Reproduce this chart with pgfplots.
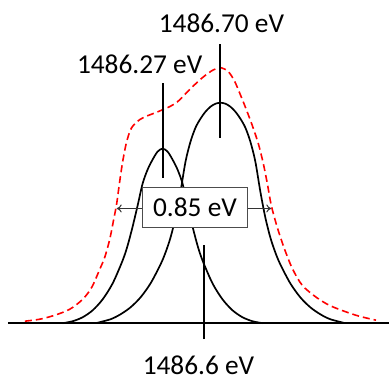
\documentclass[border=0pt]{standalone}
\usepackage{pgfplots}
\pgfplotsset{compat=1.18}
\usetikzlibrary{arrows.meta}
\usepackage{fontspec}
\setmainfont{Carlito}
\begin{document}
\begin{tikzpicture}
\begin{axis}[
  scale only axis, width=390bp, height=379bp,
  xmin=0, xmax=390, ymin=0, ymax=379,
  hide axis, clip=false,
]
\path (rel axis cs:0,0) rectangle (rel axis cs:1,1);
% baseline
\addplot[black, line width=2bp] coordinates {(8,55) (390,55)};
% red envelope
\addplot[red, line width=1.6bp, dash pattern=on 7bp off 4bp, smooth, tension=0.5] coordinates {
(25,57)(40,59)(55,63)(70,69)(83,79)(92,91)(100,109)(105,121)(110,139)(114,159)(117,175)(120,197)(123,217)(127,237)(132,251)(140,259)(148,263)(156,266)(163,269)(170,272)(178,277)(186,285)(194,293)(204,302)(214,309)(222,311)(229,307)(235,298)(241,284)(247,269)(253,253)(259,235)(264,215)(268,195)(272,173)(278,151)(285,130)(293,110)(303,93)(317,81)(330,73)(345,67)(360,62)(377,58)};
% small peak
\addplot[black, line width=1.7bp, smooth, tension=0.5] coordinates {
(63,55)(73,57)(83,61)(93,68)(103,79)(113,95)(123,118)(128,133)(133,152)(138,173)(143,195)(148,209)(153,219)(158,227)(163,230)(168,227)(173,219)(178,209)(183,195)(188,173)(193,152)(198,133)(203,118)(213,95)(223,79)(233,68)(243,61)(253,57)(263,55)};
% big peak
\addplot[black, line width=1.7bp, smooth, tension=0.5] coordinates {
(96,55)(111,59)(121,64)(131,71)(141,81)(151,95)(161,114)(166,126)(171,141)(176,161)(181,187)(186,217)(191,237)(196,251)(201,260)(206,267)(211,272)(216,275)(221,276)(226,275)(231,272)(236,267)(241,260)(246,251)(251,237)(256,217)(261,187)(266,161)(271,141)(276,126)(281,114)(291,95)(301,81)(311,71)(321,64)(331,59)(346,55)};
% vertical markers
\addplot[black, line width=2bp] coordinates {(163,201) (163,296)};
\addplot[black, line width=2bp] coordinates {(221,241) (221,335)};
\addplot[black, line width=2bp] coordinates {(205,39) (205,133)};
% arrows
\addplot[black!80, line width=1bp, -{To[length=5bp,width=8bp]}] coordinates {(143,170) (117,170)};
\addplot[black!80, line width=1bp, -{To[length=5bp,width=8bp]}] coordinates {(248,170) (272,170)};
% box
\node[draw=black!70, fill=white, line width=1bp, minimum width=105bp, minimum height=40bp, inner sep=0pt,
  font=\fontsize{27.5}{32}\selectfont] at (axis cs:195.5,171) {0.85 eV};
\node[font=\fontsize{27.5}{32}\selectfont, inner sep=0pt] at (axis cs:222,355.5) {1486.70 eV};
\node[font=\fontsize{27.5}{32}\selectfont, inner sep=0pt] at (axis cs:140,315) {1486.27 eV};
\node[font=\fontsize{27.5}{32}\selectfont, inner sep=0pt] at (axis cs:199,13) {1486.6 eV};
\end{axis}
\end{tikzpicture}
\end{document}
